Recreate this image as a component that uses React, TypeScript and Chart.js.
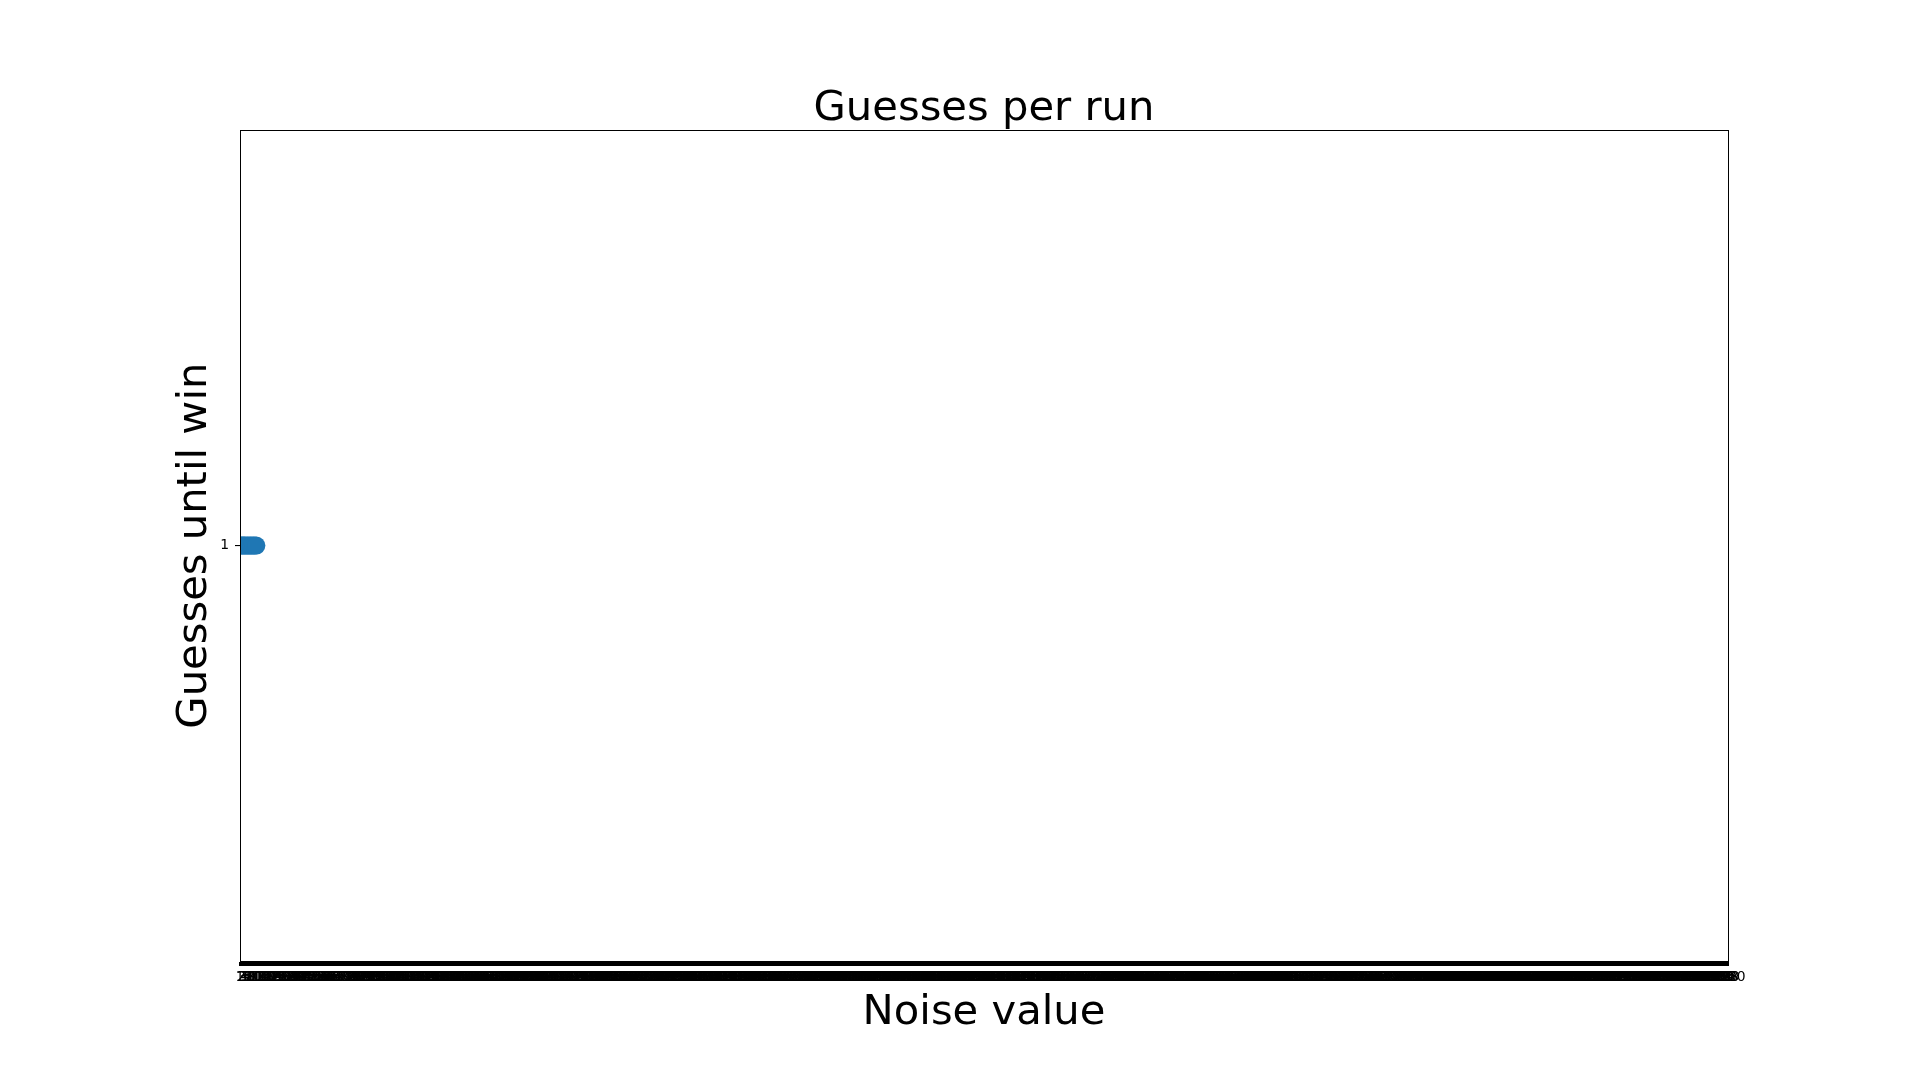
import React, { useEffect, useRef } from "react";
import { Chart, registerables } from "chart.js";

Chart.register(...registerables);

// Noise value categories (tick labels 1..1000 on the category axis)
const noiseLabels: string[] = Array.from({ length: 1000 }, (_, i) => String(i + 1));
// Guesses until win for the runs that were recorded (first categories)
const guessValues: number[] = [1, 1, 1, 1, 1, 1, 1, 1, 1, 1, 1, 1];
const yTickValues: number[] = [1];

const TITLE = "Guesses per run";
const X_TITLE = "Noise value";
const Y_TITLE = "Guesses until win";
const FONT = "'DejaVu Sans', 'Liberation Sans', sans-serif";

const framePlugin = {
  id: "frame",
  afterDraw(chart: any) {
    const { ctx, chartArea } = chart;
    ctx.save();
    ctx.strokeStyle = "#000";
    ctx.lineWidth = 1;
    ctx.strokeRect(
      Math.round(chartArea.left) + 0.5,
      Math.round(chartArea.top) + 0.5,
      Math.round(chartArea.right - chartArea.left),
      Math.round(chartArea.bottom - chartArea.top)
    );
    ctx.restore();
  },
};

export default function App() {
  const ref = useRef<HTMLCanvasElement | null>(null);
  useEffect(() => {
    if (!ref.current) return;
    const data = noiseLabels.map((_, i) => (i < guessValues.length ? guessValues[i] : null));
    const chart = new Chart(ref.current, {
      type: "line",
      data: {
        labels: noiseLabels,
        datasets: [
          {
            data,
            showLine: false,
            pointRadius: 9,
            pointHoverRadius: 9,
            pointBackgroundColor: "#1f77b4",
            pointBorderWidth: 0,
            borderColor: "#1f77b4",
            clip: 0,
          } as any,
        ],
      },
      options: {
        animation: false,
        responsive: false,
        events: [],
        layout: { padding: { top: 0, left: 0, right: 192, bottom: 0 } },
        plugins: {
          legend: { display: false },
          tooltip: { enabled: false },
          title: {
            display: true,
            text: TITLE,
            color: "#000",
            fullSize: false,
            font: { family: FONT, size: 41.7, weight: "normal", lineHeight: 1 },
            padding: { top: 88.5, bottom: 0 },
          },
        },
        scales: {
          x: {
            type: "category",
            offset: false,
            border: { display: true, color: "#000", width: 1 },
            grid: { drawOnChartArea: false, drawTicks: true, tickLength: 5, color: "#000", lineWidth: 2 },
            ticks: {
              autoSkip: false,
              maxRotation: 0,
              minRotation: 0,
              color: "#000",
              padding: 3,
              font: { family: FONT, size: 13.9 },
            },
            title: {
              display: true,
              text: X_TITLE,
              color: "#000",
              font: { family: FONT, size: 41.7, weight: "normal", lineHeight: 1 },
              padding: { top: 0, bottom: 46 },
            },
            afterFit: (scale: any) => {
              scale.height = 119;
            },
          },
          y: {
            type: "linear",
            min: 0.945,
            max: 1.055,
            border: { display: true, color: "#000", width: 1 },
            grid: { drawOnChartArea: false, drawTicks: true, tickLength: 5, color: "#000", lineWidth: 1.1 },
            afterBuildTicks: (scale: any) => {
              scale.ticks = yTickValues.map((v) => ({ value: v }));
            },
            ticks: {
              color: "#000",
              padding: 6,
              font: { family: FONT, size: 13.9 },
              callback: (v: any) => String(v),
            },
            title: {
              display: true,
              text: Y_TITLE,
              color: "#000",
              font: { family: FONT, size: 41.7, weight: "normal", lineHeight: 1 },
              padding: { top: 174, bottom: 0 },
            },
            afterFit: (scale: any) => {
              scale.width = 240;
            },
          },
        },
      } as any,
      plugins: [framePlugin],
    });
    return () => chart.destroy();
  }, []);

  return (
    <div style={{ position: "fixed", left: 0, top: 0, width: 1920, height: 1080, background: "#fff" }}>
      <canvas ref={ref} width={1920} height={1080} style={{ display: "block" }} />
    </div>
  );
}
